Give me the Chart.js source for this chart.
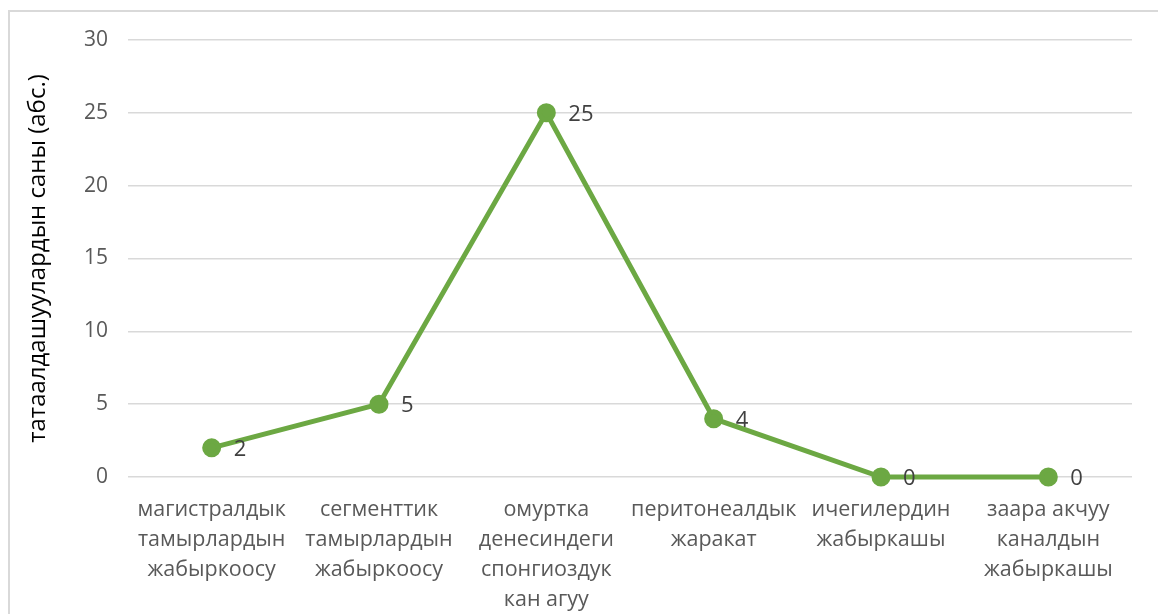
<!DOCTYPE html>
<html>
<head>
<meta charset="utf-8">
<script src="https://cdn.jsdelivr.net/npm/chart.js@4/dist/chart.umd.min.js"></script>
<style>
  html, body { margin: 0; padding: 0; background: #ffffff; }
  #wrap { position: relative; width: 1158px; height: 614px; overflow: hidden; }
  canvas { display: block; }
</style>
</head>
<body>
<div id="wrap"><canvas id="chart" width="1158" height="614"></canvas></div>
<script>
// Complication types (multi-line category labels)
const categories = [
  ['магистралдык', 'тамырлардын', 'жабыркоосу'],
  ['сегменттик', 'тамырлардын', 'жабыркоосу'],
  ['омуртка', 'денесиндеги', 'спонгиоздук', 'кан агуу'],
  ['перитонеалдык', 'жаракат'],
  ['ичегилердин', 'жабыркашы'],
  ['заара акчуу', 'каналдын', 'жабыркашы']
];
// Number of complications (absolute)
const counts = [2, 5, 25, 4, 0, 0];
const yTitle = 'татаалдашуулардын саны (абс.)';
const yMin = 0, yMax = 30, yStep = 5;

const FONT = '"Open Sans", "DejaVu Sans", sans-serif';

// Outer frame around the chart
const framePlugin = {
  id: 'frame',
  beforeDraw(chart) {
    const ctx = chart.ctx;
    ctx.save();
    ctx.fillStyle = '#ffffff';
    ctx.fillRect(0, 0, chart.width, chart.height);
    ctx.strokeStyle = '#d9d9d9';
    ctx.lineWidth = 2;
    ctx.strokeRect(9, 11, chart.width + 50, chart.height + 50);
    ctx.restore();
  }
};

// Value labels to the right of each point
const valueLabels = {
  id: 'valueLabels',
  afterDatasetsDraw(chart) {
    const ctx = chart.ctx;
    const meta = chart.getDatasetMeta(0);
    const data = chart.data.datasets[0].data;
    ctx.save();
    ctx.font = '22px ' + FONT;
    ctx.fillStyle = '#404040';
    ctx.textAlign = 'left';
    ctx.textBaseline = 'middle';
    meta.data.forEach((pt, i) => {
      ctx.fillText(String(data[i]), pt.x + 22, pt.y + 2);
    });
    ctx.restore();
  }
};

new Chart(document.getElementById('chart'), {
  type: 'line',
  data: {
    labels: categories,
    datasets: [{
      data: counts,
      borderColor: '#6ca843',
      backgroundColor: '#6ca843',
      borderWidth: 5,
      pointRadius: 7,
      pointHoverRadius: 7,
      pointBackgroundColor: '#6ca843',
      pointBorderColor: '#6ca843',
      tension: 0,
      fill: false,
      clip: false
    }]
  },
  options: {
    responsive: false,
    animation: false,
    events: [],
    layout: { padding: { top: 40, right: 26, bottom: 0, left: 0 } },
    plugins: {
      legend: { display: false },
      tooltip: { enabled: false }
    },
    scales: {
      x: {
        offset: true,
        grid: { display: false, drawTicks: false },
        border: { display: false },
        ticks: {
          color: '#595959',
          font: { family: FONT, size: 21.5, lineHeight: 1.4 },
          padding: 18,
          maxRotation: 0,
          autoSkip: false
        },
        afterFit(scale) { scale.height = 137; }
      },
      y: {
        min: yMin,
        max: yMax,
        grid: { color: '#d9d9d9', lineWidth: 1.5, drawTicks: false },
        border: { display: false },
        ticks: {
          stepSize: yStep,
          color: '#595959',
          font: { family: FONT, size: 21 },
          padding: 20
        },
        title: {
          display: true,
          text: yTitle,
          color: '#000000',
          font: { family: FONT, size: 24 },
          padding: { top: 24, bottom: 0 }
        },
        afterFit(scale) { scale.width = 128; }
      }
    }
  },
  plugins: [framePlugin, valueLabels]
});
</script>
</body>
</html>
